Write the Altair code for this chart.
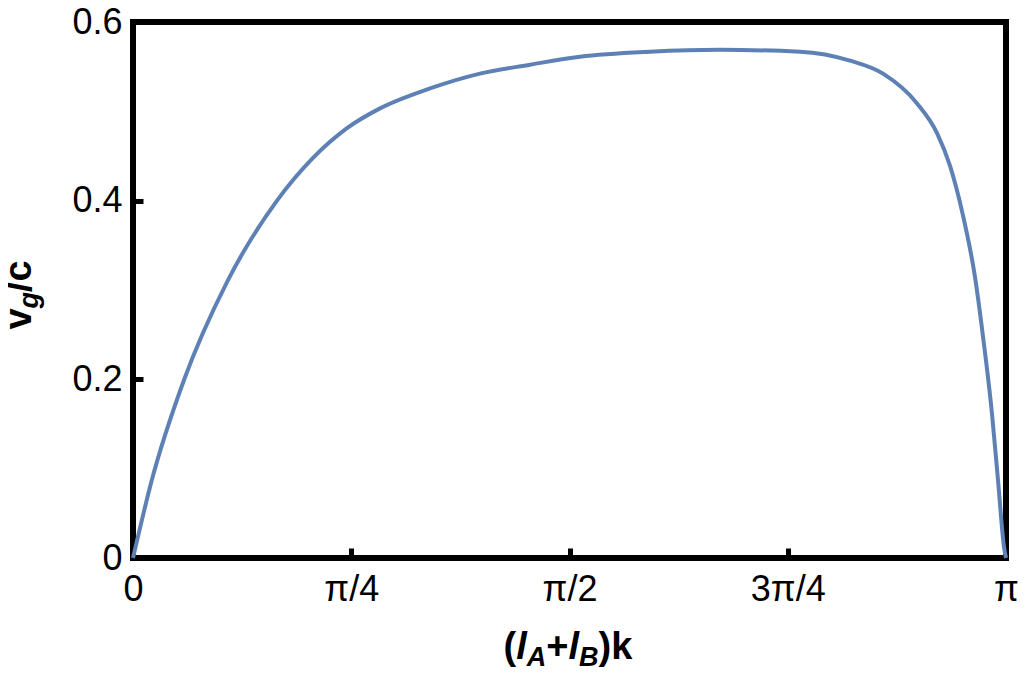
import math
import altair as alt
import pandas as pd

# data
x_vals = [0, 0.0673, 0.1835, 0.3383, 0.5182, 0.6478, 0.7701, 0.8889, 1.0688, 1.2487,
          1.4287, 1.6086, 1.8605, 2.1124, 2.4003, 2.5803, 2.699, 2.8214, 2.8934, 2.9402,
          2.9869, 3.0301, 3.0589, 3.0913, 3.1129, 3.1345, 3.1416]
y_vals = [0, 0.0867, 0.1992, 0.3089, 0.4, 0.4478, 0.4811, 0.5033, 0.5256, 0.5422,
          0.5522, 0.5611, 0.5667, 0.5689, 0.5667, 0.5567, 0.5422, 0.5089, 0.4756, 0.4389,
          0.3833, 0.3144, 0.2478, 0.1611, 0.0867, 0.0122, 0]
x_ticks = [0, math.pi / 4, math.pi / 2, 3 * math.pi / 4, math.pi]
x_tick_labels = ["0", "π/4", "π/2", "3π/4", "π"]
y_ticks = [0, 0.2, 0.4, 0.6]
y_tick_labels = ["0", "0.2", "0.4", "0.6"]

df = pd.DataFrame({"x": x_vals, "y": y_vals})

W, H = 873, 536
FONT = "Liberation Sans"

label_expr_x = " : ".join(
    [f"abs(datum.value - {v}) < 1e-6 ? '{l}'" for v, l in zip(x_ticks, x_tick_labels)]
) + " : ''"
label_expr_y = " : ".join(
    [f"abs(datum.value - {v}) < 1e-6 ? '{l}'" for v, l in zip(y_ticks, y_tick_labels)]
) + " : ''"

line = alt.Chart(df).mark_line(color="#5E81B5", strokeWidth=4, interpolate="monotone").encode(
    x=alt.X("x:Q", scale=alt.Scale(domain=[0, math.pi], nice=False, zero=False),
            axis=alt.Axis(values=x_ticks, labelExpr=label_expr_x, title=None, grid=False,
                          domain=False, ticks=True, tickSize=10, offset=-10, tickWidth=5,
                          tickColor="black", labelPadding=14, labelFont=FONT,
                          labelFlush=False, labelOverlap=False,
                          labelFontSize=36, labelColor="black")),
    y=alt.Y("y:Q", scale=alt.Scale(domain=[0, 0.6], nice=False),
            axis=alt.Axis(values=y_ticks, labelExpr=label_expr_y, title=None, grid=False,
                          domain=False, ticks=True, tickSize=10, offset=-10, tickWidth=5,
                          tickColor="black", labelPadding=11, labelFont=FONT,
                          labelFlush=False, labelOverlap=False,
                          labelFontSize=36, labelColor="black")),
)

one = pd.DataFrame({"t": [0]})


def txt(s, x, y, size, italic=False, angle=0):
    kw = dict(text=s, font=FONT, fontSize=size, fontWeight="bold", align="left",
              baseline="alphabetic", color="black")
    if italic:
        kw["fontStyle"] = "italic"
    if angle:
        kw["angle"] = angle
    return alt.Chart(one).mark_text(**kw).encode(x=alt.value(x), y=alt.value(y))


M, S = 38, 27
xb, xs = 637, 644
x0 = 370.6
xt = [
    txt("(", x0, xb, M),
    txt("l", x0 + 12.7, xb, M, italic=True),
    txt("A", x0 + 23.2, xs, S, italic=True),
    txt("+", x0 + 42.7, xb, M),
    txt("l", x0 + 64.9, xb, M, italic=True),
    txt("B", x0 + 75.5, xs, S, italic=True),
    txt(")k", x0 + 95.0, xb, M),
]

yb, ys = -102, -95
y0 = 307.6
yt = [
    txt("v", yb, y0, M, angle=270),
    txt("g", ys, y0 - 21.1, S, italic=True, angle=270),
    txt("/c", yb, y0 - 37.6, M, angle=270),
]

chart = alt.layer(line, *xt, *yt).properties(
    width=W, height=H,
    autosize=alt.AutoSizeParams(type="none"),
    padding={"left": 125, "top": 14, "right": 12, "bottom": 114},
).configure_view(stroke="black", strokeWidth=6, fill="white")

chart.save("out.html", embed_options={"renderer": "svg", "actions": False})
